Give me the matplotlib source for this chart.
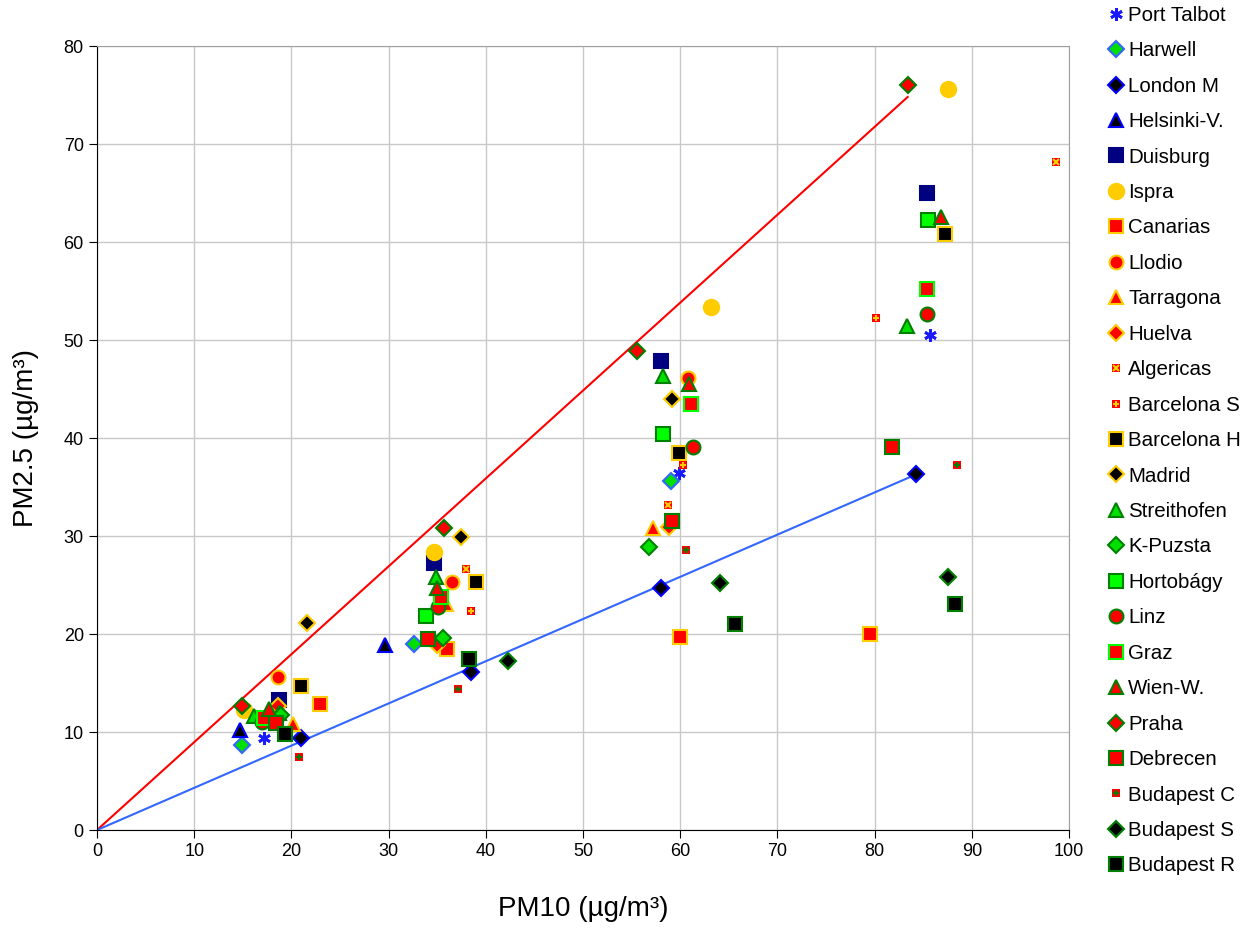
# PM2.5 vs PM10 scatter for European sites
import matplotlib.pyplot as plt
from matplotlib.legend_handler import HandlerTuple

plt.rcParams['font.family'] = ['Liberation Sans', 'DejaVu Sans']

# data: (PM10, PM2.5) per site
port_talbot = [(17.2, 9.4), (59.9, 36.4), (85.7, 50.5)]
harwell = [(14.9, 8.7), (32.6, 19.0), (59.1, 35.6)]
london_m = [(21.0, 9.4), (38.5, 16.1), (58.0, 24.7), (84.3, 36.3)]
helsinki = [(14.7, 10.2), (29.6, 18.9)]
duisburg = [(18.7, 13.3), (34.7, 27.2), (58.0, 47.9), (85.4, 65.0)]
ispra = [(15.1, 12.2), (34.7, 28.4), (63.2, 53.4), (87.6, 75.6)]
canarias = [(22.9, 12.9), (36.0, 18.5), (60.0, 19.7), (79.5, 20.0)]
llodio = [(18.6, 15.6), (36.5, 25.3), (60.8, 46.1)]
tarragona = [(20.2, 10.8), (35.9, 23.1), (57.2, 30.8)]
huelva = [(18.6, 12.7), (35.0, 18.9), (58.8, 30.9)]
algericas = [(38.0, 26.6), (58.7, 33.2), (98.7, 68.2)]
barcelona_s = [(38.5, 22.3), (60.3, 37.2), (80.1, 52.3)]
barcelona_h = [(21.0, 14.7), (39.0, 25.3), (59.9, 38.5), (87.2, 60.8)]
madrid = [(21.6, 21.1), (37.4, 29.9), (59.2, 44.0)]
streithofen = [(16.2, 11.6), (18.7, 11.9), (34.9, 25.8), (58.2, 46.3), (83.3, 51.4)]
k_puzsta = [(18.9, 11.7), (35.6, 19.6), (56.8, 28.9)]
hortobagy = [(33.8, 21.8), (58.2, 40.4), (85.5, 62.3)]
linz = [(17.0, 11.0), (35.1, 22.8), (61.3, 39.1), (85.4, 52.7)]
graz = [(17.2, 11.4), (35.4, 23.8), (61.1, 43.5), (85.4, 55.2)]
wien_w = [(17.7, 12.4), (35.0, 24.7), (60.9, 45.5), (86.8, 62.6)]
praha = [(14.9, 12.7), (35.7, 30.8), (55.6, 48.9), (83.4, 76.0)]
debrecen = [(18.4, 10.9), (34.1, 19.5), (59.2, 31.5), (81.8, 39.1)]
budapest_c = [(20.8, 7.5), (37.1, 14.4), (60.6, 28.6), (88.5, 37.2)]
budapest_s = [(42.3, 17.2), (64.1, 25.2), (87.6, 25.8)]
budapest_r = [(19.3, 9.8), (38.3, 17.5), (65.6, 21.0), (88.3, 23.1)]

# reference lines
red_line_x = [0, 83.4]
red_line_y = [0, 74.8]
blue_line_x = [0, 84.3]
blue_line_y = [0, 36.3]

fig = plt.figure(figsize=(12.5, 9.32), dpi=100)
ax = fig.add_axes([0.0776, 0.1094, 0.7776, 0.8412])

ax.plot(red_line_x, red_line_y, color='#ff0000', lw=1.5, zorder=2)
ax.plot(blue_line_x, blue_line_y, color='#3366ff', lw=1.5, zorder=2)

handles = []
labels = []


def series(pts, label, marker, face, edge, ms=10, mew=1.5, overlay=None):
    xs = [p[0] for p in pts]
    ys = [p[1] for p in pts]
    h = ax.plot(xs, ys, ls='none', marker=marker, mfc=face, mec=edge,
                ms=ms, mew=mew, zorder=3)[0]
    if overlay is not None:
        om, oc = overlay
        h2 = ax.plot(xs, ys, ls='none', marker=om, color=oc, ms=ms * 0.8,
                     mew=1.5, zorder=3)[0]
        h = (h, h2)
    handles.append(h)
    labels.append(label)


series(port_talbot, 'Port Talbot', (6, 2, 0), 'none', '#1a1aff', ms=9, mew=2)
series(harwell, 'Harwell', 'D', '#00e000', '#3366ff', ms=8)
series(london_m, 'London M', 'D', '#000000', '#0000ff', ms=8)
series(helsinki, 'Helsinki-V.', '^', '#000000', '#0000ff', ms=10)
series(duisburg, 'Duisburg', 's', '#000080', '#000080', ms=10)
series(ispra, 'Ispra', 'o', '#ffcc00', '#ffcc00', ms=11)
series(canarias, 'Canarias', 's', '#ff0000', '#ffcc00', ms=10)
series(llodio, 'Llodio', 'o', '#ff0000', '#ffcc00', ms=10)
series(tarragona, 'Tarragona', '^', '#ff0000', '#ffcc00', ms=10)
series(huelva, 'Huelva', 'D', '#ff0000', '#ffcc00', ms=8)
series(algericas, 'Algericas', 's', '#ff0000', '#ff0000', ms=6, mew=0,
       overlay=('x', '#ffcc00'))
series(barcelona_s, 'Barcelona S', 's', '#ff0000', '#ff0000', ms=6, mew=0,
       overlay=('+', '#ffcc00'))
series(barcelona_h, 'Barcelona H', 's', '#000000', '#ffcc00', ms=10)
series(madrid, 'Madrid', 'D', '#000000', '#ffcc00', ms=8)
series(streithofen, 'Streithofen', '^', '#00e000', '#008000', ms=10)
series(k_puzsta, 'K-Puzsta', 'D', '#00e000', '#008000', ms=8)
series(hortobagy, 'Hortobágy', 's', '#00ff00', '#008000', ms=10)
series(linz, 'Linz', 'o', '#ff0000', '#008000', ms=10)
series(graz, 'Graz', 's', '#ff0000', '#00ff00', ms=10)
series(wien_w, 'Wien-W.', '^', '#ff0000', '#008000', ms=10)
series(praha, 'Praha', 'D', '#ff0000', '#008000', ms=8)
series(debrecen, 'Debrecen', 's', '#ff0000', '#008000', ms=10)
series(budapest_c, 'Budapest C', 's', '#ff0000', '#ff0000', ms=6, mew=0,
       overlay=('+', '#008000'))
series(budapest_s, 'Budapest S', 'D', '#000000', '#008000', ms=8)
series(budapest_r, 'Budapest R', 's', '#000000', '#008000', ms=10)

ax.set_xlim(0, 100)
ax.set_ylim(0, 80)
ax.set_xticks(range(0, 101, 10))
ax.set_yticks(range(0, 81, 10))
ax.grid(True, color='#c8c8c8', lw=1)
ax.set_axisbelow(True)
for side in ['top', 'right']:
    ax.spines[side].set_color('#a0a0a0')
for side in ['left', 'bottom']:
    ax.spines[side].set_color('black')
ax.tick_params(direction='out', length=6, labelsize=13, color='black')
ax.set_xlabel('PM10 (µg/m³)', fontsize=20, labelpad=26)
ax.set_ylabel('PM2.5 (µg/m³)', fontsize=20, labelpad=18)

fig.legend(handles, labels, loc='upper left', bbox_to_anchor=(0.8763, 1.007),
           frameon=False, fontsize=14.8, handlelength=0.8, handletextpad=0.2,
           labelspacing=0.80, borderaxespad=0.2,
           handler_map={tuple: HandlerTuple(ndivide=1, pad=0)})

fig.savefig('out.png', dpi=100)
